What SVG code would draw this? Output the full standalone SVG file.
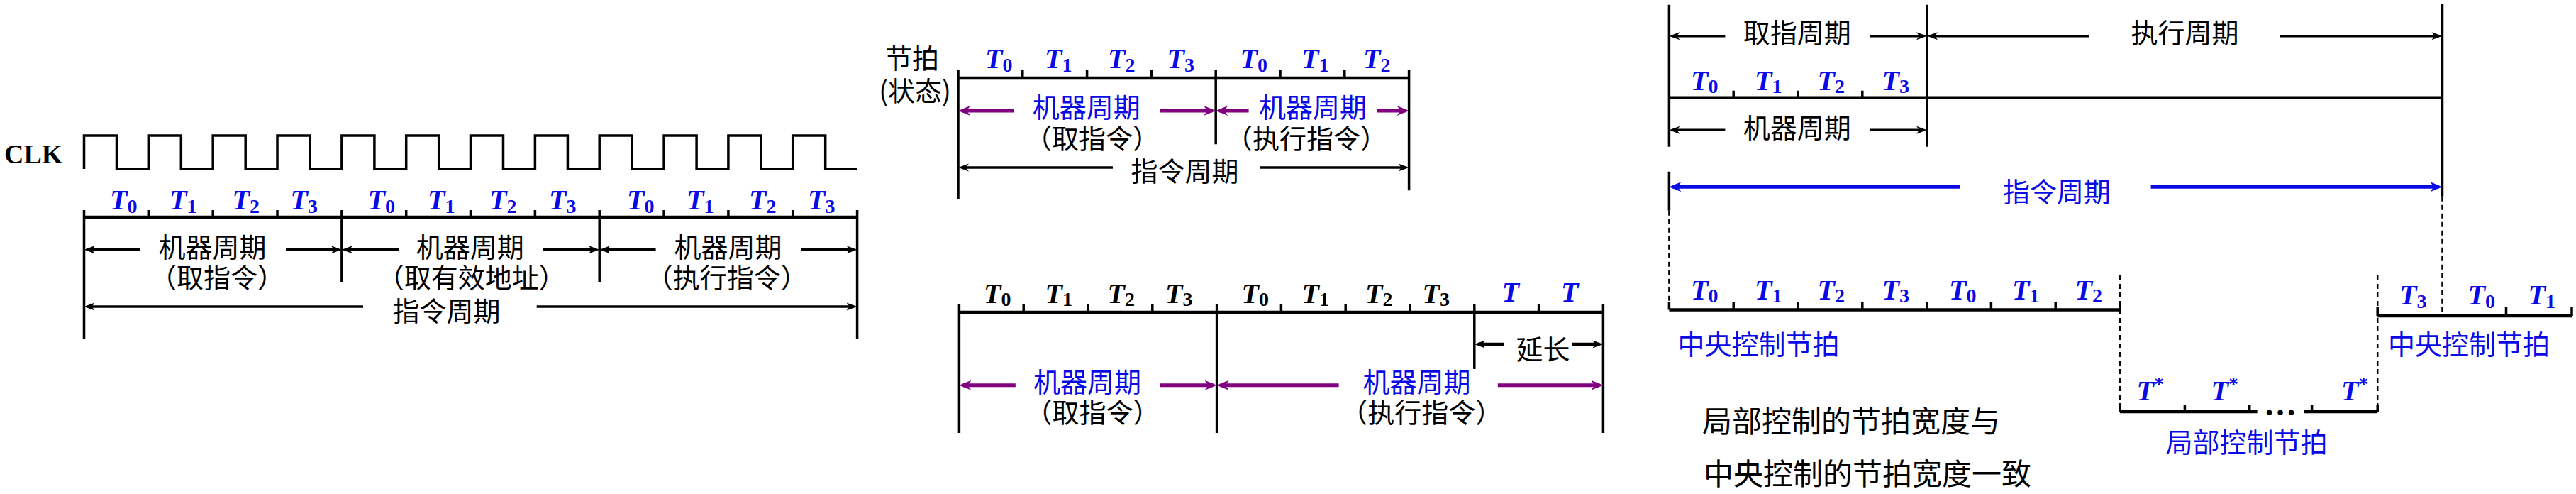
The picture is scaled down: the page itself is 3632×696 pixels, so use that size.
<svg xmlns="http://www.w3.org/2000/svg" width="3632" height="696" viewBox="0 0 3632 696">
<defs>
<style>
.ln{stroke:#000;stroke-width:3.5;fill:none}
.tl{stroke:#000;stroke-width:4.5;fill:none}
.ds{stroke:#000;stroke-width:2.5;stroke-dasharray:7 5;fill:none}
.ab{stroke:#000;stroke-width:3.5;fill:none;marker-end:url(#mb)}
.ap{stroke:#800080;stroke-width:5;fill:none;marker-end:url(#mp)}
.al{stroke:#0a0ae6;stroke-width:5;fill:none;marker-end:url(#ml)}
.cn{font-family:"Noto Sans CJK SC","Noto Sans CJK JP",sans-serif;font-size:38px;fill:#000;text-anchor:middle}
.cb{fill:#0a0ae6}
.st{text-anchor:start;font-size:42px}
.t{font-family:"Liberation Serif","Times New Roman",serif;font-style:italic;font-weight:bold;font-size:40px;fill:#0a0ae6}
.k{fill:#000}
.s{font-size:28px;font-style:normal}
.clk{font-family:"Liberation Serif","Times New Roman",serif;font-weight:bold;font-size:38px;fill:#000}
</style>
<marker id="mb" markerUnits="userSpaceOnUse" viewBox="-12 -7 18 14" markerWidth="18" markerHeight="14" refX="0" refY="0" orient="auto"><path d="M5,0 L-10,-5.5 L-6,0 L-10,5.5 Z" fill="#000"/></marker>
<marker id="mp" markerUnits="userSpaceOnUse" viewBox="-14 -8 20 16" markerWidth="20" markerHeight="16" refX="0" refY="0" orient="auto"><path d="M5,0 L-12,-7 L-7,0 L-12,7 Z" fill="#800080"/></marker>
<marker id="ml" markerUnits="userSpaceOnUse" viewBox="-14 -8 20 16" markerWidth="20" markerHeight="16" refX="0" refY="0" orient="auto"><path d="M5,0 L-12,-7 L-7,0 L-12,7 Z" fill="#0a0ae6"/></marker>
</defs>
<rect width="3632" height="696" fill="#fff"/>

<!-- Panel 1: clock -->
<g id="clk">
<text class="clk" x="6" y="230">CLK</text>
<path class="ln" d="M118.5,238 V191 H164.5 V238 H209.3 V191 H255.3 V238 H300.2 V191 H346.2 V238 H391 V191 H437 V238 H481.9 V191 H527.9 V238 H572.7 V191 H618.7 V238 H663.5 V191 H709.5 V238 H754.4 V191 H800.4 V238 H845.2 V191 H891.2 V238 H936.1 V191 H982.1 V238 H1026.9 V191 H1072.9 V238 H1117.7 V191 H1163.7 V238 H1208.6"/>
</g>

<g id="p1-beats">
<path class="tl" d="M118.5,306 H1208.6"/>
<path class="ln" d="M118.5,296 V477 M481.9,296 V397 M845.2,296 V397 M1208.6,296 V477 M209.3,296 V306 M300.2,296 V306 M391,296 V306 M572.7,296 V306 M663.5,296 V306 M754.4,296 V306 M936.1,296 V306 M1026.9,296 V306 M1117.7,296 V306"/>
<text class="t" x="155" y="295">T<tspan class="s" dy="4.5">0</tspan></text>
<text class="t" x="239" y="295">T<tspan class="s" dy="4.5">1</tspan></text>
<text class="t" x="327.5" y="295">T<tspan class="s" dy="4.5">2</tspan></text>
<text class="t" x="409.5" y="295">T<tspan class="s" dy="4.5">3</tspan></text>
<text class="t" x="518.5" y="295">T<tspan class="s" dy="4.5">0</tspan></text>
<text class="t" x="603" y="295">T<tspan class="s" dy="4.5">1</tspan></text>
<text class="t" x="690" y="295">T<tspan class="s" dy="4.5">2</tspan></text>
<text class="t" x="774" y="295">T<tspan class="s" dy="4.5">3</tspan></text>
<text class="t" x="884" y="295">T<tspan class="s" dy="4.5">0</tspan></text>
<text class="t" x="968" y="295">T<tspan class="s" dy="4.5">1</tspan></text>
<text class="t" x="1056" y="295">T<tspan class="s" dy="4.5">2</tspan></text>
<text class="t" x="1139" y="295">T<tspan class="s" dy="4.5">3</tspan></text>
</g>

<g id="p1-labels">
<text class="cn" x="299.5" y="362">机器周期</text>
<text class="cn" x="306" y="405">（取指令）</text>
<text class="cn" x="662.7" y="362">机器周期</text>
<text class="cn" x="664.8" y="405">（取有效地址）</text>
<text class="cn" x="1026.6" y="362">机器周期</text>
<text class="cn" x="1024.8" y="405">（执行指令）</text>
<text class="cn" x="629.5" y="452">指令周期</text>
</g>

<!-- Panel 2 -->
<g id="p2-beats">
<text class="cn" x="1286" y="95.5">节拍</text>
<text class="cn" x="1290" y="142">(状态)</text>
<path class="tl" d="M1351,110 H1986.6"/>
<path class="ln" d="M1351,99 V280 M1714.2,99 V203.3 M1986.6,99 V268.3 M1441.8,99 V110 M1532.6,99 V110 M1623.4,99 V110 M1805,99 V110 M1895.8,99 V110"/>
<text class="t" x="1389" y="96">T<tspan class="s" dy="4.5">0</tspan></text>
<text class="t" x="1473" y="96">T<tspan class="s" dy="4.5">1</tspan></text>
<text class="t" x="1562" y="96">T<tspan class="s" dy="4.5">2</tspan></text>
<text class="t" x="1645.5" y="96">T<tspan class="s" dy="4.5">3</tspan></text>
<text class="t" x="1748.5" y="96">T<tspan class="s" dy="4.5">0</tspan></text>
<text class="t" x="1835" y="96">T<tspan class="s" dy="4.5">1</tspan></text>
<text class="t" x="1922" y="96">T<tspan class="s" dy="4.5">2</tspan></text>
</g>
<g id="p2-labels">
<text class="cn cb" x="1531.8" y="165.3">机器周期</text>
<text class="cn" x="1540" y="208.7">（取指令）</text>
<text class="cn cb" x="1851" y="165.3">机器周期</text>
<text class="cn" x="1842" y="208.7">（执行指令）</text>
<text class="cn" x="1670.5" y="255.3">指令周期</text>
</g>

<!-- Panel 3 -->
<g id="p3-beats">
<path class="tl" d="M1352.4,440 H2260.4"/>
<path class="ln" d="M1352.4,428 V610 M1715.6,428 V610 M2078.8,428 V520 M2260.4,428 V610 M1443.2,428 V440 M1534,428 V440 M1624.8,428 V440 M1806.4,428 V440 M1897.2,428 V440 M1988,428 V440 M2169.6,428 V440"/>
<text class="t k" x="1387" y="426.7">T<tspan class="s" dy="4.5">0</tspan></text>
<text class="t k" x="1473.5" y="426.7">T<tspan class="s" dy="4.5">1</tspan></text>
<text class="t k" x="1561.5" y="426.7">T<tspan class="s" dy="4.5">2</tspan></text>
<text class="t k" x="1643" y="426.7">T<tspan class="s" dy="4.5">3</tspan></text>
<text class="t k" x="1750.5" y="426.7">T<tspan class="s" dy="4.5">0</tspan></text>
<text class="t k" x="1835.5" y="426.7">T<tspan class="s" dy="4.5">1</tspan></text>
<text class="t k" x="1925" y="426.7">T<tspan class="s" dy="4.5">2</tspan></text>
<text class="t k" x="2005.5" y="426.7">T<tspan class="s" dy="4.5">3</tspan></text>
<text class="t" x="2117.5" y="425">T</text>
<text class="t" x="2201" y="425">T</text>
</g>
<g id="p3-labels">
<text class="cn" x="2175.5" y="505.5">延长</text>
<text class="cn cb" x="1533" y="552">机器周期</text>
<text class="cn" x="1540.4" y="595.3">（取指令）</text>
<text class="cn cb" x="1997.5" y="552">机器周期</text>
<text class="cn" x="2004.3" y="595.3">（执行指令）</text>
</g>

<!-- Panel 4 -->
<g id="p4-cycles">
<path class="ln" d="M2353.4,6.7 V206.7 M2717,6.7 V206.7 M3443.5,5 V276.7 M2353.4,241.7 V296.7"/>
<path class="tl" d="M2353.4,137.7 H3443.5"/>
<path class="ln" d="M2444.2,127.7 V137.7 M2535,127.7 V137.7 M2625.8,127.7 V137.7"/>
<text class="t" x="2384" y="126.7">T<tspan class="s" dy="4.5">0</tspan></text>
<text class="t" x="2474" y="126.7">T<tspan class="s" dy="4.5">1</tspan></text>
<text class="t" x="2562.5" y="126.7">T<tspan class="s" dy="4.5">2</tspan></text>
<text class="t" x="2653.5" y="126.7">T<tspan class="s" dy="4.5">3</tspan></text>
<text class="cn" x="2533.8" y="60.3">取指周期</text>
<text class="cn" x="3080.4" y="60.3">执行周期</text>
<text class="cn" x="2533.8" y="193.7">机器周期</text>
<text class="cn cb" x="2899.9" y="283.7">指令周期</text>
</g>

<g id="p4-central">
<path class="ds" d="M2353.4,296.7 V427 M3443.5,276.7 V445 M2989,388 V572 M3352.2,388 V572"/>
<path class="tl" d="M2353.4,436.5 H2989"/>
<path class="ln" d="M2353.4,425 V436.5 M2444.2,425 V436.5 M2535,425 V436.5 M2625.8,425 V436.5 M2717,425 V436.5 M2807.4,425 V436.5 M2898.2,425 V436.5 M2989,425 V436.5"/>
<text class="t" x="2384" y="421.7">T<tspan class="s" dy="4.5">0</tspan></text>
<text class="t" x="2474" y="421.7">T<tspan class="s" dy="4.5">1</tspan></text>
<text class="t" x="2562.5" y="421.7">T<tspan class="s" dy="4.5">2</tspan></text>
<text class="t" x="2653.5" y="421.7">T<tspan class="s" dy="4.5">3</tspan></text>
<text class="t" x="2748" y="421.7">T<tspan class="s" dy="4.5">0</tspan></text>
<text class="t" x="2837" y="421.7">T<tspan class="s" dy="4.5">1</tspan></text>
<text class="t" x="2925.5" y="421.7">T<tspan class="s" dy="4.5">2</tspan></text>
<text class="cn cb" x="2479.5" y="498.7">中央控制节拍</text>
</g>

<g id="p4-local">
<path class="tl" d="M2989,580 H3182.6 M3249,580 H3352.2"/>
<path class="ln" d="M2989,570 V580 M3080.4,570 V580 M3171.7,570 V580 M3259.6,570 V580 M3352.2,570 V580"/>
<text class="t" x="3012.5" y="564">T<tspan class="s" dy="-14">*</tspan></text>
<text class="t" x="3117.5" y="564">T<tspan class="s" dy="-14">*</tspan></text>
<text class="t" x="3301" y="564">T<tspan class="s" dy="-14">*</tspan></text>
<text x="3215" y="585" text-anchor="middle" font-family="Liberation Serif,serif" font-weight="bold" font-size="46">…</text>
<text class="cn cb" x="3167.4" y="637">局部控制节拍</text>
</g>

<g id="p4-right">
<path class="tl" d="M3352.2,445 H3626"/>
<path class="ln" d="M3352.2,433 V445 M3533.5,433 V445 M3626,433 V445"/>
<text class="t" x="3383" y="429">T<tspan class="s" dy="4.5">3</tspan></text>
<text class="t" x="3479.5" y="429">T<tspan class="s" dy="4.5">0</tspan></text>
<text class="t" x="3564.5" y="429">T<tspan class="s" dy="4.5">1</tspan></text>
<text class="cn cb" x="3481.1" y="498.7">中央控制节拍</text>
</g>

<g id="note">
<text class="cn st" x="2400" y="608.7">局部控制的节拍宽度与</text>
<text class="cn st" x="2402" y="683">中央控制的节拍宽度一致</text>
</g>

<g id="connectors">
<line class="ab" x1="198" y1="351.7" x2="123.5" y2="351.7"/>
<line class="ab" x1="403" y1="351.7" x2="476.9" y2="351.7"/>
<line class="ab" x1="562" y1="351.7" x2="486.9" y2="351.7"/>
<line class="ab" x1="765.8" y1="351.7" x2="840.2" y2="351.7"/>
<line class="ab" x1="924.6" y1="351.7" x2="850.2" y2="351.7"/>
<line class="ab" x1="1129.8" y1="351.7" x2="1203.6" y2="351.7"/>
<line class="ab" x1="512" y1="432" x2="123.5" y2="432"/>
<line class="ab" x1="756.7" y1="432" x2="1203.6" y2="432"/>

<line class="ap" x1="1429" y1="156" x2="1356" y2="156"/>
<line class="ap" x1="1635.6" y1="156" x2="1709.2" y2="156"/>
<line class="ap" x1="1760.6" y1="156" x2="1719.2" y2="156"/>
<line class="ap" x1="1941.7" y1="156" x2="1981.6" y2="156"/>
<line class="ab" x1="1569" y1="236" x2="1356" y2="236"/>
<line class="ab" x1="1776" y1="236" x2="1981.6" y2="236"/>

<line class="ab" x1="2121" y1="485" x2="2083.8" y2="485" style="stroke-width:4.5"/>
<line class="ab" x1="2216" y1="485" x2="2255.4" y2="485" style="stroke-width:4.5"/>
<line class="ap" x1="1431.8" y1="542.7" x2="1357.4" y2="542.7"/>
<line class="ap" x1="1636" y1="542.7" x2="1710.6" y2="542.7"/>
<line class="ap" x1="1887.6" y1="542.7" x2="1720.6" y2="542.7"/>
<line class="ap" x1="2111.8" y1="542.7" x2="2255.4" y2="542.7"/>

<line class="ab" x1="2432.4" y1="50.7" x2="2358.4" y2="50.7"/>
<line class="ab" x1="2636.9" y1="50.7" x2="2712" y2="50.7"/>
<line class="ab" x1="2945.8" y1="50.7" x2="2722" y2="50.7"/>
<line class="ab" x1="3214" y1="50.7" x2="3438.5" y2="50.7"/>
<line class="ab" x1="2432.4" y1="183.3" x2="2358.4" y2="183.3"/>
<line class="ab" x1="2636.9" y1="183.3" x2="2712" y2="183.3"/>
<line class="al" x1="2763" y1="263.3" x2="2358.4" y2="263.3"/>
<line class="al" x1="3032.6" y1="263.3" x2="3438.5" y2="263.3"/>
</g>
</svg>
